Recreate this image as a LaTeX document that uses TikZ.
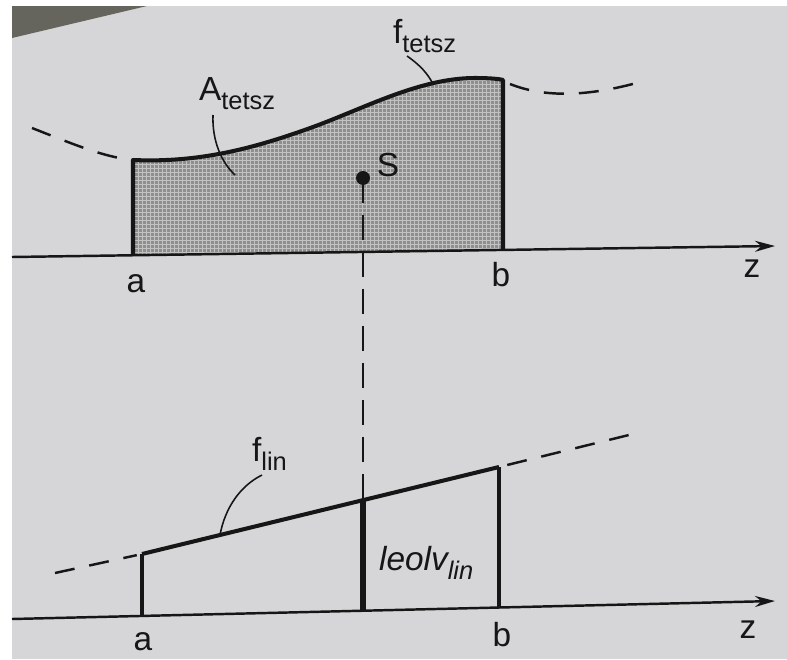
\documentclass[tikz,border=0pt]{standalone}
\usepackage{fontspec}
\setmainfont{Liberation Sans}
\usetikzlibrary{arrows.meta,calc}
\definecolor{paper}{HTML}{D6D6D8}
\definecolor{hatch}{HTML}{8E8E8E}
\definecolor{mesh}{HTML}{C2C2C2}
\definecolor{ink}{HTML}{161616}
\definecolor{smudge}{HTML}{65655D}
\newcommand{\lowidx}[1]{\raisebox{-0.55ex}{\fontsize{14.5}{14.5}\selectfont #1}}

\begin{document}
\begin{tikzpicture}[
    x=0.02cm, y=-0.02cm,
    font=\fontsize{19}{19}\selectfont,
    axis/.style={draw=ink, line width=1.4pt, -{Stealth[length=4mm,width=2.2mm]}},
    graph/.style={draw=ink, line width=2.3pt, line join=round},
    ordinate/.style={draw=ink, line width=#1},
    ordinate/.default=2pt,
    extension/.style={draw=ink, line width=1.4pt, dash pattern=on 0.4cm off 0.3cm},
    leader/.style={draw=ink, line width=0.9pt},
    lbl/.style={text=ink, inner sep=1pt}
]

% Paper
\fill[white] (0,0) rectangle (787,659);
\fill[paper] (12,6) rectangle (787,659);
\fill[smudge] (12,6) -- (147,6) -- (12,38) -- cycle;
\useasboundingbox (0,0) rectangle (787,659);

% Upper graph: real curve f_tetsz
\coordinate (aT) at (133,255.5);
\coordinate (bT) at (503,250.5);
\begin{scope}
  \clip (aT) -- (133,160) .. controls (200,163) and (255,148) .. (313,127)
        .. controls (365,108) and (420,78) .. (475,78)
        .. controls (490,78) and (500,79) .. (503,80) -- (bT) -- cycle;
  \fill[hatch] (130,70) rectangle (506,260);
  \foreach \i in {134,138,...,504}
    \draw[mesh, line width=0.45pt] (\i,70) -- (\i,260);
  \foreach \j in {72,76,...,258}
    \draw[mesh, line width=0.45pt] (130,\j) -- (506,\j);
\end{scope}
\draw[graph] (aT) -- (133,160) .. controls (200,163) and (255,148) .. (313,127)
    .. controls (365,108) and (420,78) .. (475,78)
    .. controls (490,78) and (500,79) .. (503,80) -- (bT);

\coordinate (o1) at (12,257);
\coordinate (e1) at (775,246);
\draw[axis] (o1) -- (e1);

% Dashed continuation of f_tetsz
\coordinate (fL0) at (32,128);
\coordinate (fL1) at (125,159);
\coordinate (fR0) at (510,84);
\coordinate (fR1) at (647,80);
\draw[extension] (fL0) .. controls (75,145) and (100,155) .. (fL1);
\draw[extension] (fR0) .. controls (545,98) and (590,97) .. (fR1);

% Centroid S
\node[circle, fill=ink, inner sep=0pt, minimum size=0.28cm] (S) at (363,178) {};
\node[lbl] (Slbl) at (388,165) {S};

% Labels upper graph
\node[lbl, anchor=base west] (fT) at (391,43) {f\lowidx{tetsz}};
\node[lbl, anchor=base west] (AT) at (197,100) {A\lowidx{tetsz}};
\coordinate (fTs) at (407,56);
\coordinate (fTe) at (433,84);
\coordinate (ATs) at (213,115);
\coordinate (ATe) at (235,175);
\draw[leader] (fTs) .. controls (420,65) and (428,74) .. (fTe);
\draw[leader] (ATs) .. controls (212,140) and (221,162) .. (ATe);

\node[lbl] (a1) at (136,284) {a};
\node[lbl] (b1) at (501,275) {b};
\node[lbl] (z1) at (752,269) {z};

% Lower graph: linear f_lin
\coordinate (a2) at (142,554);
\coordinate (s2) at (363,500);
\coordinate (b2) at (499,467);
\coordinate (a2f) at (142,616);
\coordinate (s2f) at (363,611);
\coordinate (b2f) at (499,607.5);
\coordinate (o2) at (12,619);
\coordinate (e2) at (775,601);
\draw[axis] (o2) -- (e2);

\draw[ordinate] (a2f) -- (a2);
\draw[ordinate=3.3pt] (s2f) -- (s2);
\draw[ordinate] (b2f) -- (b2);
\draw[graph] (a2) -- (b2);

\coordinate (lin0) at (55,573);
\coordinate (lin1) at (637,433);
\draw[extension] (lin0) -- ($(lin0)!0.94!(a2)$);
\draw[extension] ($(b2)!0.06!(lin1)$) -- (lin1);

% Vertical through S
\draw[ink, line width=1.2pt, dash pattern=on 0.5cm off 0.24cm] (S.center) -- (s2);

% Labels lower graph
\node[lbl, anchor=base west] (fL) at (250,461) {f\lowidx{lin}};
\node[lbl, anchor=base west] (leolv) at (377,570) {\itshape leolv\lowidx{lin}};
\coordinate (fLs) at (262,475);
\coordinate (fLe) at (220,535);
\draw[leader] (fLs) .. controls (240,486) and (225,508) .. (fLe);

\node[lbl] (a2l) at (143,642) {a};
\node[lbl] (b2l) at (502,635) {b};
\node[lbl] (z2l) at (748,630) {z};

\end{tikzpicture}
\end{document}
